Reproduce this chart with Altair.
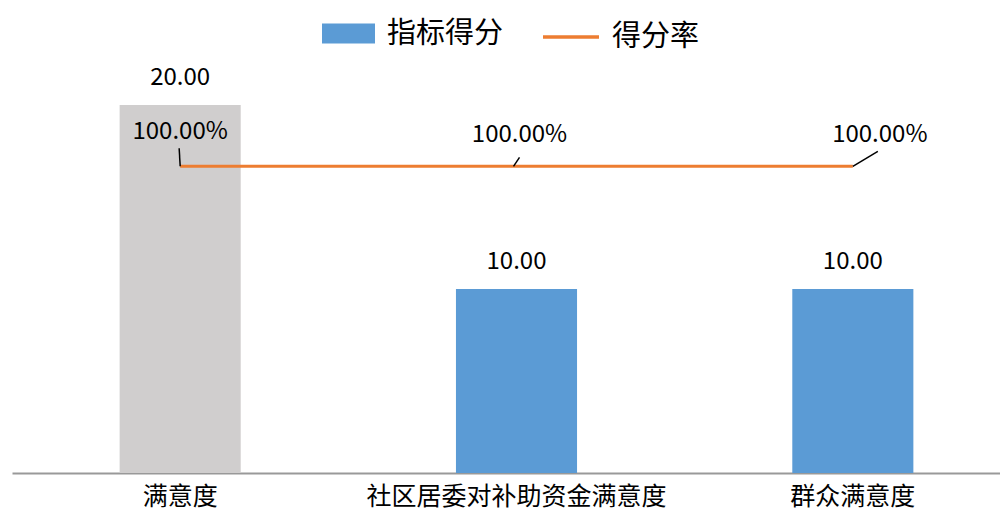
import altair as alt
import pandas as pd

categories = ["满意度", "社区居委对补助资金满意度", "群众满意度"]
scores = [20.0, 10.0, 10.0]
rates = [1.0, 1.0, 1.0]
score_labels = ["20.00", "10.00", "10.00"]
rate_labels = ["100.00%", "100.00%", "100.00%"]
series_bar = "指标得分"
series_line = "得分率"

df = pd.DataFrame({
    "cat": categories,
    "score": scores,
    "rate": rates,
    "score_label": score_labels,
    "rate_label": rate_labels,
    "s1": series_bar,
    "s2": series_line,
})

FONT = "Noto Sans CJK SC"
BLUE = "#5B9BD5"
GREY = "#D0CECE"
ORANGE = "#ED7D31"

x = alt.X(
    "cat:N",
    sort=categories,
    scale=alt.Scale(paddingInner=0.64, paddingOuter=0.32),
    axis=alt.Axis(
        title=None, labelAngle=0, labelFontSize=25, labelFont=FONT,
        labelColor="#000000", domainColor="#999999", domainWidth=2,
        ticks=False, labelPadding=11, grid=False, labelLimit=0,
    ),
)
xs = alt.X("cat:N", sort=categories)

yS = alt.Scale(domain=[0, 20])
yR = alt.Scale(domain=[0, 1.2])

base = alt.Chart(df)

bars = base.mark_bar().encode(
    x=x,
    y=alt.Y("score:Q", scale=yS, axis=None),
    color=alt.condition(
        alt.datum.cat == "满意度",
        alt.value(GREY),
        alt.Color(
            "s1:N",
            scale=alt.Scale(range=[BLUE]),
            legend=alt.Legend(
                title=None, orient="none", legendX=310, legendY=-98,
                symbolType="M-1,-0.377H1V0.377H-1Z", symbolSize=2809,
                symbolStrokeWidth=0, symbolOpacity=1,
                labelFont=FONT, labelFontSize=29, labelOffset=12,
                labelColor="#000000", padding=0,
            ),
        ),
    ),
)

bar_text = base.mark_text(
    dy=-20, baseline="alphabetic", fontSize=24, font=FONT, color="#000000"
).encode(
    x=xs,
    y=alt.Y("score:Q", scale=yS, axis=None),
    text="score_label:N",
)

line = base.mark_line(strokeWidth=3).encode(
    x=xs,
    y=alt.Y("rate:Q", scale=yR, axis=None),
    stroke=alt.Stroke(
        "s2:N",
        scale=alt.Scale(range=[ORANGE]),
        legend=alt.Legend(
            title=None, orient="none", legendX=529, legendY=-98,
            symbolType="stroke", symbolSize=3136, symbolStrokeWidth=3.5,
            labelFont=FONT, labelFontSize=29, labelOffset=11,
            labelColor="#000000", padding=0,
        ),
    ),
)

# per-category label placement (dx, dy) and leader offsets (x, y, x2, y2)
label_pos = [(0, -27), (3, -24), (27, -24)]
leader_pos = [(0, 0, -1, -18), (-3, 0, 3, -9), (0, 0, 25, -15)]

layers = [bars, bar_text, line]
for i, c in enumerate(categories):
    sub = base.transform_filter(alt.datum.cat == c)
    dx, dy = label_pos[i]
    layers.append(
        sub.mark_text(
            dx=dx, dy=dy, baseline="alphabetic", fontSize=24, font=FONT,
            color="#000000",
        ).encode(
            x=xs,
            y=alt.Y("rate:Q", scale=yR, axis=None),
            text="rate_label:N",
        )
    )
    ox, oy, ox2, oy2 = leader_pos[i]
    layers.append(
        sub.mark_rule(
            color="#000000", strokeWidth=1.5,
            xOffset=ox, yOffset=oy, x2Offset=ox2, y2Offset=oy2,
        ).encode(
            x=xs,
            x2=alt.X2("cat:N"),
            y=alt.Y("rate:Q", scale=yR, axis=None),
            y2=alt.Y2("rate:Q"),
        )
    )

chart = (
    alt.layer(*layers)
    .resolve_scale(y="independent")
    .properties(
        width=1009,
        height=368,
        autosize=alt.AutoSizeParams(type="none"),
        padding={"left": 4, "top": 97, "right": -21, "bottom": 38},
        background="#ffffff",
    )
    .configure_view(stroke=None)
)

chart.save("out.html", embed_options={"renderer": "svg", "actions": False})
